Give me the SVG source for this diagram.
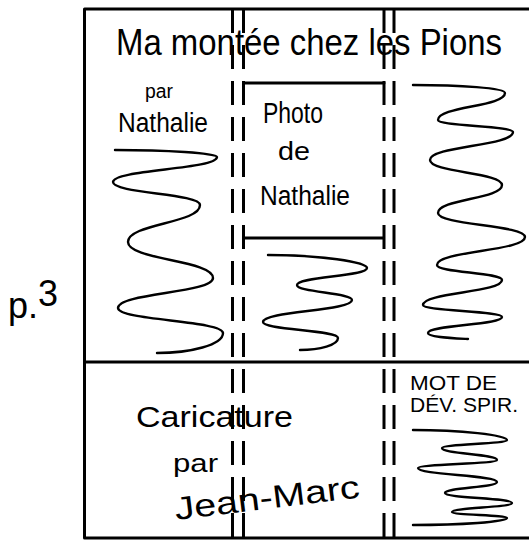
<svg xmlns="http://www.w3.org/2000/svg" width="529" height="542" viewBox="0 0 529 542">
  <style>
    .ink { fill: none; stroke: #000; stroke-linecap: round; stroke-linejoin: round; }
    .frame { stroke-width: 3; }
    .rule { stroke-width: 3; stroke-dasharray: 24 12; stroke-linecap: butt; }
    .copy { stroke-width: 2.4; }
    .hand { font-family: "Liberation Sans", "DejaVu Sans", sans-serif; fill: #000; }
  </style>

  <rect width="529" height="542" fill="#fff"/>

  <!-- page frame and the horizontal fold -->
  <g id="frame" class="ink frame">
    <path d="M531,9 H84.5 V538 H531"/>
    <path d="M84.5,362 H531"/>
  </g>

  <!-- double column rules -->
  <g id="column-rules" class="ink rule">
    <path d="M232.5,9 V538"/>
    <path d="M243.5,9 V538"/>
    <path d="M384,9 V538"/>
    <path d="M394,9 V538"/>
  </g>

  <!-- page number -->
  <g id="page-number">
    <text class="hand" x="8" y="318" font-size="36">p.<tspan dy="-12">3</tspan></text>
  </g>

  <!-- headline -->
  <g id="title">
    <text class="hand" x="116" y="55" font-size="37" textLength="386" lengthAdjust="spacingAndGlyphs">Ma montée chez les Pions</text>
  </g>

  <!-- byline and body copy, left column -->
  <g id="byline">
    <text class="hand" x="145" y="98" font-size="20" textLength="28" lengthAdjust="spacingAndGlyphs">par</text>
    <text class="hand" x="118" y="132" font-size="27" textLength="90" lengthAdjust="spacingAndGlyphs">Nathalie</text>
    <path class="ink copy" d="M115,150 C165,150 217,153 217,157 C217,169.5 113,169.5 113,182 C113,193.5 200,193.5 200,205 C200,223.5 128,223.5 128,242 C128,260 213,260 213,278 C213,293 118,293 118,308 C118,320.5 223,320.5 223,333 C223,345 190,353 157,353"/>
  </g>

  <!-- photo box, centre column -->
  <g id="photo">
    <path class="ink frame" d="M244,83 H384"/>
    <path class="ink frame" d="M244,238 H383"/>
    <text class="hand" x="263" y="123" font-size="29" textLength="60" lengthAdjust="spacingAndGlyphs">Photo</text>
    <text class="hand" x="278" y="160" font-size="25" textLength="32" lengthAdjust="spacingAndGlyphs">de</text>
    <text class="hand" x="260" y="205" font-size="27" textLength="90" lengthAdjust="spacingAndGlyphs">Nathalie</text>
    <path class="ink copy" d="M268,255 C320,255 367,262 367,268 C367,276.5 297,276.5 297,285 C297,292.5 352,292.5 352,300 C352,311 263,311 263,322 C263,330 338,330 338,338 C338,345 320,350 300,350"/>
  </g>

  <!-- body copy, right column -->
  <g id="right-copy">
    <path class="ink copy" d="M413,85 C460,85 505,88 505,93 C505,106.5 438,106.5 438,120 C438,126 513,126 513,132 C513,146 430,146 430,160 C430,172.5 502,172.5 502,185 C502,199 438,199 438,213 C438,225 525,225 525,237 C525,251 437,251 437,265 C437,272.5 502,272.5 502,280 C502,292.5 423,292.5 423,305 C423,311 502,311 502,317 C502,325 428,325 428,333 C428,337 450,338 468,339"/>
  </g>

  <!-- cartoon slot, lower half -->
  <g id="caricature">
    <text class="hand" x="136" y="427" font-size="30" textLength="157" lengthAdjust="spacingAndGlyphs">Caricature</text>
    <text class="hand" x="173" y="472" font-size="26" textLength="45" lengthAdjust="spacingAndGlyphs">par</text>
    <text class="hand" x="176" y="520" font-size="32" textLength="186" lengthAdjust="spacingAndGlyphs" transform="rotate(-7 176 520)">Jean-Marc</text>
  </g>

  <!-- sidebar, lower right -->
  <g id="sidebar">
    <text class="hand" x="410" y="390" font-size="20" textLength="87" lengthAdjust="spacingAndGlyphs">MOT DE</text>
    <text class="hand" x="410" y="412" font-size="20" textLength="108" lengthAdjust="spacingAndGlyphs">DÉV. SPIR.</text>
    <path class="ink copy" d="M413,430 C460,430 507,435 507,440 C507,444 442,444 442,448 C442,454 497,454 497,460 C497,464 418,464 418,468 C418,475 497,475 497,482 C497,487.5 445,487.5 445,493 C445,498 512,498 512,503 C512,507.5 452,507.5 452,512 C452,515 507,515 507,518 C507,522 460,525 413,525"/>
  </g>
</svg>
